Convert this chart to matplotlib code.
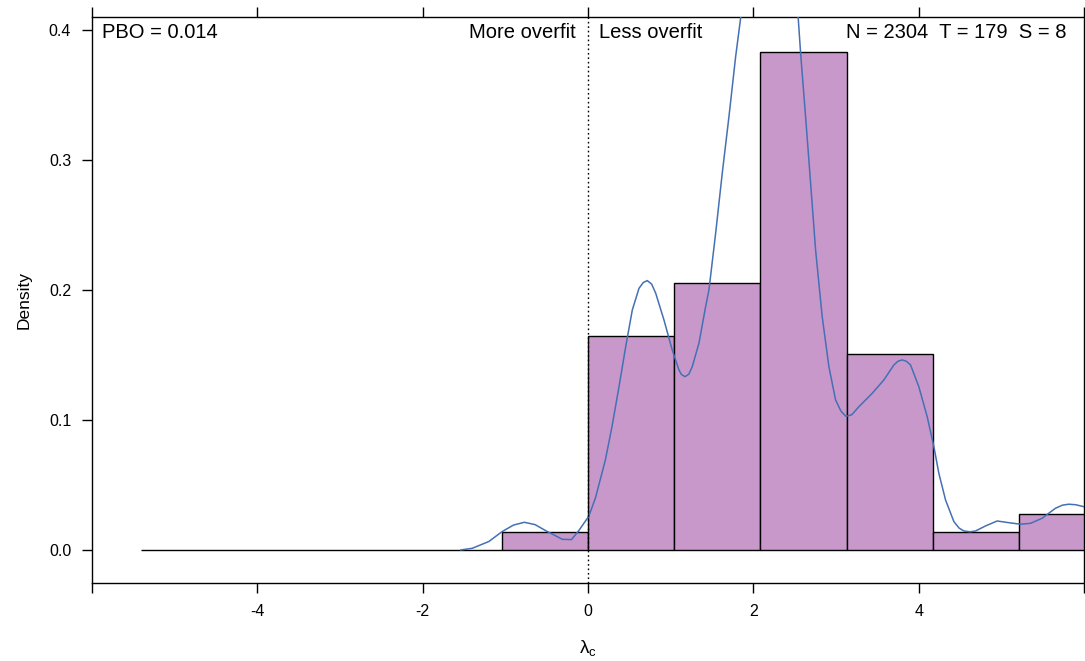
import matplotlib
matplotlib.use('Agg')
import matplotlib.pyplot as plt
import numpy as np

plt.rcParams['font.family'] = ['Liberation Sans', 'DejaVu Sans']

# histogramme: bordas das classes e contagens (70 combinacoes)
edges = [-5.41, -1.04, 0.0, 1.04, 2.085, 3.13, 4.17, 5.21, 6.25]
counts = [0, 1, 12, 15, 28, 11, 1, 2]

# curva de densidade (x, densidade)
dens_x = [-1.54, -1.40, -1.20, -1.04, -0.90, -0.77, -0.64, -0.51, -0.31, -0.20,
          -0.11, 0.01, 0.09, 0.21,
          0.29, 0.375, 0.456, 0.536, 0.617, 0.67, 0.717, 0.77, 0.819, 0.919, 1.019, 1.10,
          1.13, 1.173, 1.22, 1.261, 1.342, 1.423, 1.463, 1.544, 1.624, 1.705, 1.786, 1.846,
          1.95, 2.10, 2.25, 2.40, 2.50,
          2.543, 2.572, 2.632, 2.693, 2.753, 2.833, 2.914, 2.995, 3.06, 3.12, 3.19, 3.277,
          3.438, 3.579, 3.70, 3.75, 3.801, 3.85, 3.902, 4.002, 4.103, 4.184, 4.244, 4.325,
          4.426, 4.49, 4.547, 4.62, 4.688, 4.809, 4.949, 5.091, 5.232, 5.353, 5.493, 5.655,
          5.74, 5.816, 5.90, 5.998, 6.10]
dens_y = [0.000, 0.0013, 0.0065, 0.0141, 0.0192, 0.0213, 0.0195, 0.0148, 0.0082, 0.0080,
          0.0150, 0.0260, 0.040, 0.0692,
          0.0948, 0.1256, 0.1564, 0.1846, 0.2013, 0.2058, 0.2072, 0.2045, 0.1975, 0.1769, 0.1538, 0.1385,
          0.1350, 0.1333, 0.1352, 0.1410, 0.1590, 0.1872, 0.2000, 0.2436, 0.2898, 0.3333, 0.3795, 0.4090,
          0.46, 0.51, 0.53, 0.50, 0.44,
          0.4090, 0.3821, 0.3333, 0.2821, 0.2308, 0.1795, 0.1410, 0.1154, 0.1068, 0.1028, 0.1040, 0.1102,
          0.1205, 0.1308, 0.1423, 0.1452, 0.1462, 0.1452, 0.1423, 0.1256, 0.1025, 0.0795, 0.0590, 0.0385,
          0.0218, 0.0168, 0.0146, 0.0140, 0.0146, 0.0185, 0.0223, 0.0210, 0.0198, 0.0205, 0.0244, 0.0321,
          0.0345, 0.0352, 0.0348, 0.0333, 0.029]

pbo_text = 'PBO = 0.014'
info_text = 'N = 2304  T = 179  S = 8'

fig = plt.figure(figsize=(10.85, 6.61), dpi=100)
ax = fig.add_axes([92/1085, 78/661, 992/1085, 566.3/661])

edges = np.array(edges)
counts = np.array(counts)
widths = np.diff(edges)
density = counts / (counts.sum() * widths)

ax.bar(edges[:-1], density, width=widths, align='edge', color='#C998CB',
       edgecolor='black', linewidth=1.0, zorder=2)
ax.plot(dens_x, dens_y, color='#4470B4', linewidth=1.1, zorder=3)

# linha pontilhada em zero
ax.axvline(0, color='black', linestyle=(0, (1.2, 2)), linewidth=1.0, zorder=4)

ax.text(-5.877, 0.398, pbo_text, fontsize=14.5, ha='left', va='center')
ax.text(-0.145, 0.398, 'More overfit', fontsize=14.5, ha='right', va='center')
ax.text(0.133, 0.398, 'Less overfit', fontsize=14.5, ha='left', va='center')
ax.text(5.79, 0.398, info_text, fontsize=14.5, ha='right', va='center')

ax.set_xlim(-6, 6)
ax.set_ylim(-0.0254, 0.4102)

ax.set_xticks([-6, -4, -2, 0, 2, 4, 6])
ax.set_xticklabels(['', '-4', '-2', '0', '2', '4', ''])
ax.set_yticks([0.0, 0.1, 0.2, 0.3, 0.4])
ax.set_yticklabels(['0.0', '0.1', '0.2', '0.3', '0.4'])
ax.tick_params(axis='x', top=True, bottom=True, direction='out', length=7,
               width=1, labelsize=11.5, pad=8)
ax.tick_params(axis='y', left=True, right=False, direction='out', length=7,
               width=1, labelsize=11.5, pad=8)

for s in ax.spines.values():
    s.set_linewidth(1.0)

ax.set_ylabel('Density', fontsize=12.5, labelpad=12)
ax.set_xlabel(r'$\mathregular{\lambda_c}$', fontsize=13.5, labelpad=14)

fig.savefig('out.png', dpi=100)
